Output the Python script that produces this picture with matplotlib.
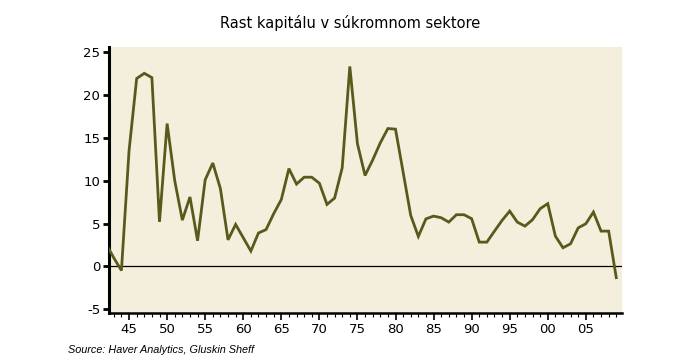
import matplotlib
matplotlib.use("Agg")
import matplotlib.pyplot as plt
from matplotlib.ticker import MultipleLocator, FixedLocator

years = list(range(1942, 2010))
values = [2.6, 1.0, -0.47, 13.5, 21.9, 22.5, 22.0, 5.2, 16.65, 10.0,
          5.4, 8.1, 3.0, 10.1, 12.05, 9.07, 3.1, 4.9, 3.35, 1.8,
          3.9, 4.3, 6.15, 7.8, 11.4, 9.6, 10.4, 10.4, 9.7, 7.23,
          7.97, 11.5, 23.3, 14.3, 10.6, 12.4, 14.4, 16.07, 16.0, 11.0,
          5.95, 3.5, 5.55, 5.87, 5.68, 5.17, 6.03, 6.03, 5.57, 2.84,
          2.84, 4.12, 5.37, 6.45, 5.17, 4.7, 5.45, 6.73, 7.32, 3.54,
          2.18, 2.65, 4.5, 4.98, 6.34, 4.12, 4.12, -1.3]
x_ticks = [1945, 1950, 1955, 1960, 1965, 1970, 1975, 1980, 1985, 1990, 1995, 2000, 2005]
x_labels = ["45", "50", "55", "60", "65", "70", "75", "80", "85", "90", "95", "00", "05"]
y_ticks = [-5, 0, 5, 10, 15, 20, 25]
title = "Rast kapitálu v súkromnom sektore"
source = "Source: Haver Analytics, Gluskin Sheff"

fig = plt.figure(figsize=(7, 3.6), dpi=100)
ax = fig.add_axes([0.155, 0.131, 0.733, 0.738])
ax.set_facecolor("#F4EFDD")

ax.axhline(0, color="black", lw=0.9, zorder=2)
ax.plot(years, values, color="#585A1C", lw=2.0, zorder=3, solid_joinstyle="miter")

ax.set_xlim(1942.3, 2009.7)
ax.set_ylim(-5.4, 25.55)

ax.xaxis.set_major_locator(FixedLocator(x_ticks))
ax.set_xticklabels(x_labels)
ax.xaxis.set_minor_locator(MultipleLocator(1))
ax.set_yticks(y_ticks)
ax.set_yticklabels([str(v) for v in y_ticks])

for s in ["top", "right"]:
    ax.spines[s].set_visible(False)
ax.spines["left"].set_linewidth(2.2)
ax.spines["bottom"].set_linewidth(1.8)

ax.tick_params(axis="y", which="major", length=4, width=2, labelsize=9.5, pad=2, colors="black")
ax.tick_params(axis="x", which="major", length=5, width=1.2, labelsize=9.5, pad=2)
ax.tick_params(axis="x", which="minor", length=3, width=0.8)
for lab in ax.get_xticklabels() + ax.get_yticklabels():
    lab.set_fontfamily("DejaVu Sans")

fig.text(0.5, 0.935, title, ha="center", va="center", fontsize=10.5, family="DejaVu Sans")
fig.text(0.097, 0.027, source, ha="left", va="center", fontsize=7.8, style="italic",
         family="Liberation Sans")

fig.savefig("out.png", dpi=100, facecolor="white")
